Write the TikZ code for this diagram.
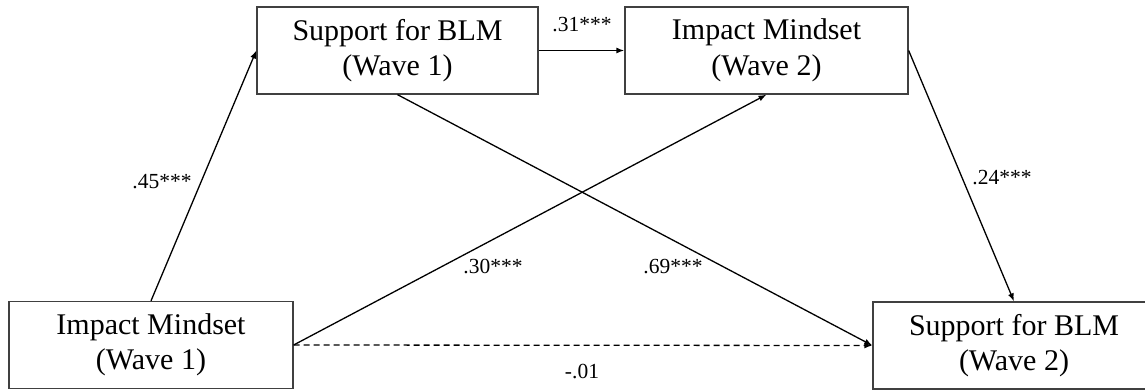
\documentclass[tikz,border=0pt]{standalone}
\usepackage{fontspec}
\setmainfont{Liberation Serif}
\usetikzlibrary{arrows.meta}
\begin{document}
\begin{tikzpicture}[x=1pt,y=-1pt,
  varbox/.style={draw=black!75, line width=1.3pt, minimum height=87pt, inner sep=0pt,
    align=center, font=\fontsize{30}{35.5}\selectfont},
  path/.style={line width=1.3pt, -{Latex[length=8pt,width=6pt]}},
  coef/.style={font=\fontsize{21.5}{26}\selectfont, inner sep=0pt}]
\path[use as bounding box] (0,0) rectangle (1145,390);
\node[varbox, minimum width=281pt] (A) at (397.5,50.5) {Support for BLM\\(Wave 1)};
\node[varbox, minimum width=283pt] (B) at (766.5,50.5) {Impact Mindset\\(Wave 2)};
\node[varbox, minimum width=284pt] (C) at (151,345) {Impact Mindset\\(Wave 1)};
\node[varbox, minimum width=282pt] (D) at (1014,345.5) {Support for BLM\\(Wave 2)};
\draw[path] (C.north) -- (A.west);
\draw[path] (A.east) -- (B.west);
\draw[path] (B.east) -- (D.north);
\draw[path] (C.east) -- (B.south);
\draw[path] (A.south) -- (D.west);
\draw[path, dash pattern=on 6pt off 4pt] (C.east) -- (D.west);
\node[coef] (l31) at (582,25) {.31***};
\node[coef] (l45) at (162,182) {.45***};
\node[coef] (l24) at (1002,178) {.24***};
\node[coef] (l30) at (493,267) {.30***};
\node[coef] (l69) at (673,267) {.69***};
\node[coef] (l01) at (582,372) {-.01};
\end{tikzpicture}
\end{document}
